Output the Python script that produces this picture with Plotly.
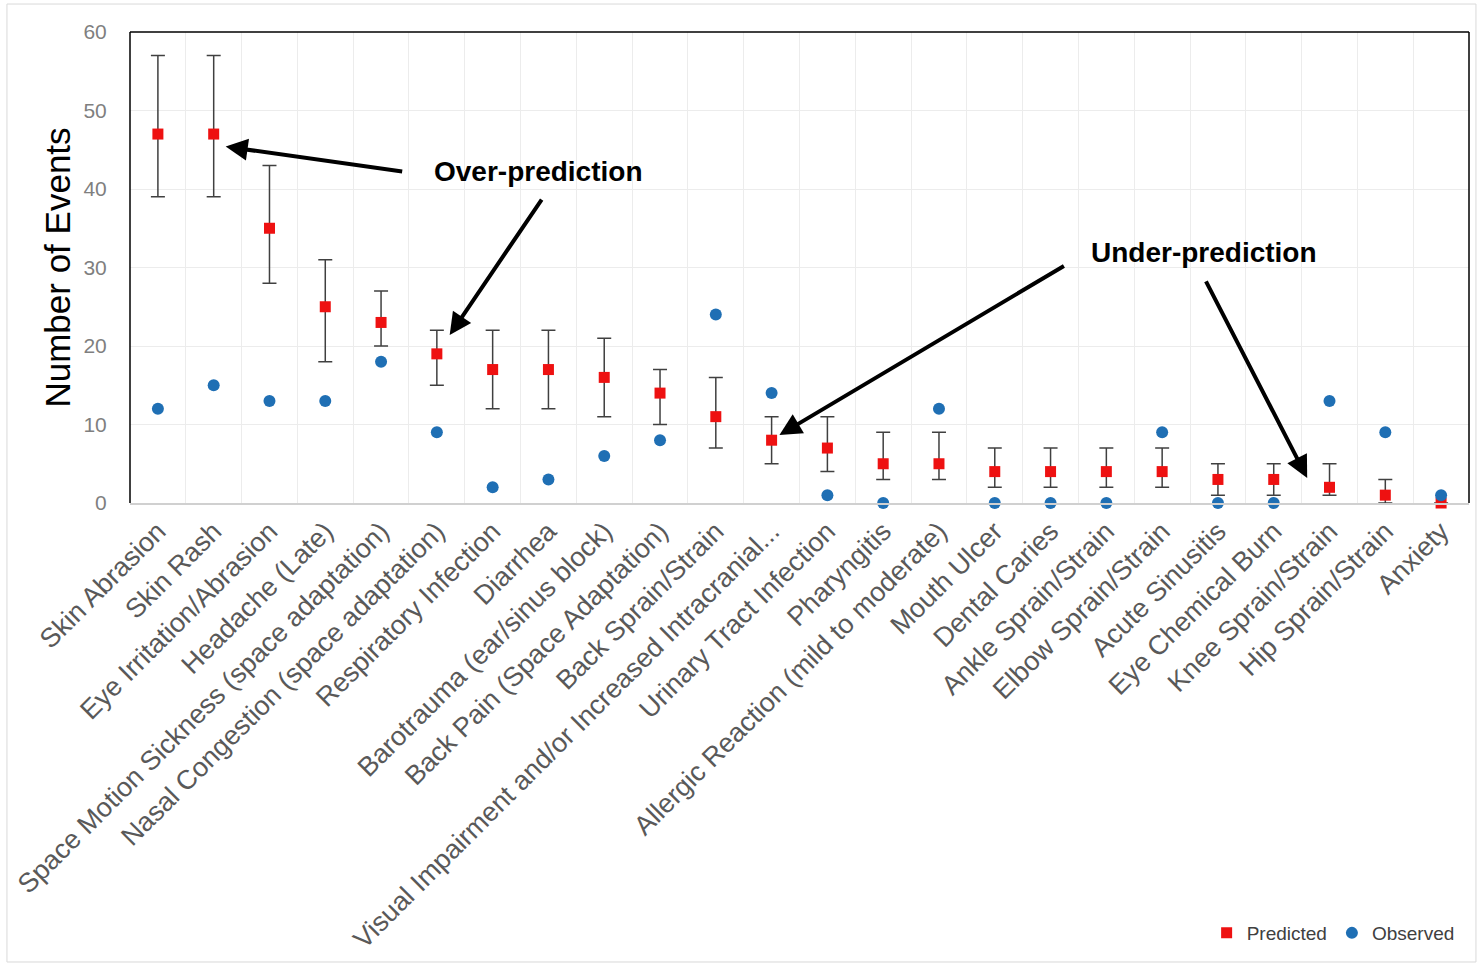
import plotly.graph_objects as go

categories = [
    "Skin Abrasion", "Skin Rash", "Eye Irritation/Abrasion", "Headache (Late)",
    "Space Motion Sickness (space adaptation)", "Nasal Congestion (space adaptation)",
    "Respiratory Infection", "Diarrhea", "Barotrauma (ear/sinus block)",
    "Back Pain (Space Adaptation)", "Back Sprain/Strain",
    "Visual Impairment and/or Increased Intracranial...", "Urinary Tract Infection",
    "Pharyngitis", "Allergic Reaction (mild to moderate)", "Mouth Ulcer",
    "Dental Caries", "Ankle Sprain/Strain", "Elbow Sprain/Strain", "Acute Sinusitis",
    "Eye Chemical Burn", "Knee Sprain/Strain", "Hip Sprain/Strain", "Anxiety",
]
predicted = [47, 47, 35, 25, 23, 19, 17, 17, 16, 14, 11, 8, 7, 5, 5, 4, 4, 4, 4, 3, 3, 2, 1, 0]
pred_upper = [57, 57, 43, 31, 27, 22, 22, 22, 21, 17, 16, 11, 11, 9, 9, 7, 7, 7, 7, 5, 5, 5, 3, 0]
pred_lower = [39, 39, 28, 18, 20, 15, 12, 12, 11, 10, 7, 5, 4, 3, 3, 2, 2, 2, 2, 1, 1, 1, 0, 0]
observed = [12, 15, 13, 13, 18, 9, 2, 3, 6, 8, 24, 14, 1, 0, 12, 0, 0, 0, 9, 0, 0, 13, 9, 1]

err_plus = [u - p for u, p in zip(pred_upper, predicted)]
err_minus = [p - l for p, l in zip(predicted, pred_lower)]

FONT = "Arial, 'Liberation Sans', sans-serif"

fig = go.Figure()
fig.add_trace(go.Scatter(
    x=categories, y=predicted, mode="markers", name="Predicted",
    marker=dict(symbol="square", size=11, color="#ee1111"),
    error_y=dict(type="data", symmetric=False, array=err_plus, arrayminus=err_minus,
                 color="#404040", thickness=1.5, width=7),
    cliponaxis=False,
))
fig.add_trace(go.Scatter(
    x=categories, y=observed, mode="markers", name="Observed",
    marker=dict(symbol="circle", size=12, color="#1f6fb4"),
    cliponaxis=False,
))

annos = [
    dict(x=6.81, y=42.2, text="<b>Over-prediction</b>", showarrow=False,
         font=dict(size=28, color="black", family=FONT)),
    dict(x=18.75, y=31.85, text="<b>Under-prediction</b>", showarrow=False,
         font=dict(size=28, color="black", family=FONT)),
]
arrows = [(1.215, 45.4, 178, 25), (5.23, 21.4, 93, -137),
          (11.14, 8.66, 286, -170), (20.6, 3.2, -102, -198)]
for hx, hy, ax, ay in arrows:
    annos.append(dict(x=hx, y=hy, ax=ax, ay=ay, text="", showarrow=True,
                      arrowhead=2, arrowsize=1.1, arrowwidth=4, arrowcolor="black"))

shapes = [
    dict(type="rect", xref="paper", yref="paper", x0=-0.0919, x1=1.0052, y0=-0.9745, y1=1.0594,
         line=dict(color="#d9d9d9", width=1), layer="below"),
    dict(type="line", xref="paper", yref="paper", x0=0, x1=1, y0=1, y1=1,
         line=dict(color="black", width=1.5)),
    dict(type="line", xref="paper", yref="paper", x0=0, x1=0, y0=0, y1=1,
         line=dict(color="black", width=1.5)),
    dict(type="line", xref="paper", yref="paper", x0=1, x1=1, y0=0, y1=1,
         line=dict(color="black", width=1.5)),
]

fig.update_layout(
    width=1480, height=964,
    margin=dict(l=130, r=11, t=32, b=461),
    paper_bgcolor="white", plot_bgcolor="white",
    font=dict(family=FONT),
    showlegend=True,
    legend=dict(orientation="h", x=0.993, xanchor="right", y=-0.913, yanchor="middle",
                font=dict(size=19, color="#404040", family=FONT),
                itemwidth=30, tracegroupgap=0, bgcolor="rgba(0,0,0,0)"),
    annotations=annos,
    shapes=shapes,
    xaxis=dict(
        type="category", tickangle=-45, tickson="boundaries",
        showgrid=True, gridcolor="#ececec", gridwidth=1,
        showline=True, linecolor="#d0d0d0", linewidth=1.5,
        ticks="outside", ticklen=14, tickcolor="rgba(0,0,0,0)",
        tickfont=dict(size=27, color="#595959", family=FONT),
        range=[-0.5, 23.5],
    ),
    yaxis=dict(
        range=[0, 60], tickvals=[0, 10, 20, 30, 40, 50, 60],
        showgrid=True, gridcolor="#ececec", gridwidth=1,
        zeroline=False, showline=False,
        ticks="outside", ticklen=18, tickcolor="rgba(0,0,0,0)",
        tickfont=dict(size=21, color="#7f7f7f", family=FONT),
        title=dict(text="Number of Events", font=dict(size=35, color="black", family=FONT),
                   standoff=2),
    ),
)

fig.write_html("out.html", config={"displayModeBar": False},
               post_script="document.body.style.margin='0px';")
